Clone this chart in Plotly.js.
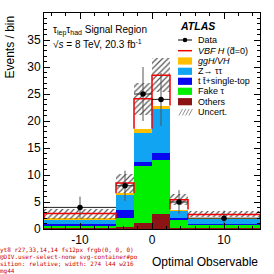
<!DOCTYPE html>
<html>
<head>
<meta charset="utf-8">
<script src="https://cdn.plot.ly/plotly-3.0.1.min.js"></script>
<style>html,body{margin:0;padding:0;background:#fff;}#chart{width:274px;height:274px;}
#dbg{position:absolute;left:0;top:246px;width:140px;height:28px;overflow:hidden;font:6px monospace;line-height:7px;color:#c00;word-break:break-all;}</style>
</head>
<body>
<div id="chart"></div>
<div id="dbg"></div>
<script>
// ---- data ----
const binEdges = [-15, -5, -2.5, 0, 2.5, 5, 15];
const others   = [0.10, 0.30, 1.20, 2.70, 0.20, 0.15];
const fakeTau  = [0.45, 1.68, 10.5, 10.1, 1.50, 0.60];
const ttbar    = [0.30, 1.54, 0.65, 1.30, 0.26, 0.20];
const ztautau  = [0.85, 2.78, 5.35, 8.10, 1.35, 0.95];
const gghVH    = [0.25, 0.30, 0.85, 0.65, 0.30, 0.10];
const vbfH     = [0.90, 1.90, 5.55, 5.60, 1.80, 0.70];
const uncert   = [0.93, 1.75, 3.00, 3.15, 1.00, 0.55];
const dataVals = [4, 8, 25, 24, 5, 2];
const dataErr  = [2.0, 2.8, 5.0, 4.9, 2.2, 1.4];
const xTickVals = [-10, 0, 10];
const xTickText = ["-10", "0", "10"];
const yTickVals = [0, 5, 10, 15, 20, 25, 30, 35];
const yTickText = ["0", "5", "10", "15", "20", "25", "30", "35"];

// ---- derived ----
const n = dataVals.length;
const centers = [], widths = [];
for (let i = 0; i < n; i++) { centers.push((binEdges[i] + binEdges[i+1]) / 2); widths.push(binEdges[i+1] - binEdges[i]); }
const halfW = widths.map(w => w / 2);

const layers = [
  {v: others, c: '#8C1414'}, {v: fakeTau, c: '#00F000'}, {v: ttbar, c: '#0808F0'},
  {v: ztautau, c: '#10A4F2'}, {v: gghVH, c: '#FFBE00'}
];
const traces = [];
let cum = new Array(n).fill(0);
layers.forEach(L => {
  traces.push({type: 'bar', x: centers, width: widths, y: L.v, base: cum.slice(),
    marker: {color: L.c, line: {width: 0}}, showlegend: false, hoverinfo: 'skip'});
  cum = cum.map((c, i) => c + L.v[i]);
});
const bkg = cum.slice();
const total = bkg.map((b, i) => b + vbfH[i]);
traces.push({type: 'bar', x: centers, width: widths,
  y: uncert.map(u => 2 * u), base: total.map((t, i) => t - uncert[i]),
  marker: {color: 'rgba(0,0,0,0)', line: {width: 0},
    pattern: {shape: '/', fgcolor: '#555', bgcolor: 'rgba(0,0,0,0)', size: 4, solidity: 0.3, fillmode: 'replace'}},
  showlegend: false, hoverinfo: 'skip'});
const rx = [], ry = [];
for (let i = 0; i < n; i++) {
  rx.push(binEdges[i], binEdges[i], binEdges[i+1], binEdges[i+1], null);
  ry.push(bkg[i], total[i], total[i], bkg[i], null);
}
traces.push({type: 'scatter', mode: 'lines', x: rx, y: ry, line: {color: '#F00000', width: 1.5},
  showlegend: false, hoverinfo: 'skip'});
traces.push({type: 'scatter', mode: 'markers', x: centers, y: dataVals,
  marker: {color: '#000', size: 5.5},
  error_y: {type: 'data', array: dataErr, color: '#555', thickness: 1, width: 0},
  error_x: {type: 'data', array: halfW, color: '#222', thickness: 1, width: 0},
  showlegend: false, hoverinfo: 'skip'});

const L0 = 44, R0 = 260, T0 = 13, B0 = 229;
const px = x => (x - L0) / (R0 - L0);
const py = y => (B0 - y) / (B0 - T0);
const FONT = 'Liberation Sans, Arial, sans-serif';
const shapes = [], ann = [];
function legText(y, txt) {
  ann.push({xref: 'paper', yref: 'paper', x: px(196), y: py(y), xanchor: 'left', yanchor: 'middle',
    text: txt, showarrow: false, font: {family: FONT, size: 9, color: '#000'}});
}
const lx0 = 178, lx1 = 192;
shapes.push({type: 'line', xref: 'paper', yref: 'paper', x0: px(lx0), x1: px(lx1), y0: py(40), y1: py(40), line: {color: '#000', width: 1}});
shapes.push({type: 'circle', xref: 'paper', yref: 'paper', x0: px(182.7), x1: px(187.3), y0: py(37.7), y1: py(42.3), fillcolor: '#000', line: {width: 0}});
legText(40, 'Data');
shapes.push({type: 'line', xref: 'paper', yref: 'paper', x0: px(lx0), x1: px(lx1), y0: py(50.7), y1: py(50.7), line: {color: '#F00000', width: 1.5}});
legText(50.7, '<i>VBF H</i> (d\u0303=0)');
const boxes = [[61, '#FFBE00', '<i>ggH/VH</i>'], [71.3, '#10A4F2', 'Z\u2192 \u03C4\u03C4'], [81.3, '#0808F0', 't t\u0304+single-top'],
               [91.3, '#00F000', 'Fake \u03C4'], [101.7, '#8C1414', 'Others']];
boxes.forEach(b => {
  shapes.push({type: 'rect', xref: 'paper', yref: 'paper', x0: px(lx0), x1: px(lx1), y0: py(b[0] + 3.6), y1: py(b[0] - 3.6), fillcolor: b[1], line: {width: 0}});
  legText(b[0], b[2]);
});
for (let k = 0; k < 4; k++) {
  shapes.push({type: 'line', xref: 'paper', yref: 'paper', x0: px(lx0 + 1 + k * 3.3), x1: px(lx0 + 4.5 + k * 3.3), y0: py(115.5), y1: py(109), line: {color: '#777', width: 0.8}});
}
legText(112.3, 'Uncert.');
ann.push({xref: 'paper', yref: 'paper', x: px(177.5), y: py(26), xanchor: 'left', yanchor: 'middle',
  text: '<b><i>ATLAS</i></b>', showarrow: false, font: {family: FONT, size: 10.5, color: '#000'}});
ann.push({xref: 'paper', yref: 'paper', x: px(51), y: py(30.5), xanchor: 'left', yanchor: 'middle',
  text: '\u03C4<sub>lep</sub>\u03C4<sub>had</sub> Signal Region', showarrow: false, font: {family: FONT, size: 10, color: '#000'}});
ann.push({xref: 'paper', yref: 'paper', x: px(51), y: py(43.5), xanchor: 'left', yanchor: 'middle',
  text: '\u221A<i>s</i> = 8 TeV, 20.3 fb<sup>-1</sup>', showarrow: false, font: {family: FONT, size: 10, color: '#000'}});
ann.push({xref: 'paper', yref: 'paper', x: px(260), y: py(262), xanchor: 'right', yanchor: 'middle',
  text: 'Optimal Observable', showarrow: false, font: {family: FONT, size: 12, color: '#000'}});
ann.push({xref: 'paper', yref: 'paper', x: px(9), y: py(14), xanchor: 'center', yanchor: 'top', textangle: -90,
  text: 'Events / bin', showarrow: false, font: {family: FONT, size: 12, color: '#000'}});

const layout = {
  width: 274, height: 274,
  margin: {l: 44, r: 14, t: 13, b: 45, pad: 0},
  barmode: 'overlay', bargap: 0, showlegend: false,
  font: {family: FONT, size: 12, color: '#000'},
  xaxis: {range: [-15, 15], tickmode: 'array', tickvals: xTickVals, ticktext: xTickText,
    ticks: 'inside', ticklen: 6, tickcolor: '#000', showline: true, linecolor: '#000', linewidth: 1,
    mirror: 'allticks', showgrid: false, zeroline: false, tickfont: {family: FONT, size: 12},
    minor: {tickmode: 'linear', tick0: 0, dtick: 2, ticks: 'inside', ticklen: 3, tickcolor: '#000', showgrid: false}},
  yaxis: {range: [0, 40], tickmode: 'array', tickvals: yTickVals, ticktext: yTickText,
    ticks: 'inside', ticklen: 6, tickcolor: '#000', showline: true, linecolor: '#000', linewidth: 1,
    mirror: 'allticks', showgrid: false, zeroline: false, showticklabels: true, tickfont: {family: FONT, size: 12},
    minor: {tickmode: 'linear', tick0: 0, dtick: 1, ticks: 'inside', ticklen: 3, tickcolor: '#000', showgrid: false}},
  shapes: shapes, annotations: ann
};
Plotly.newPlot('chart', traces, layout, {staticPlot: true, displayModeBar: false}).then(gd => {
  let s = '';
  const t = document.querySelectorAll('.ytick text');
  s += 'yt' + t.length;
  if (t.length) { const r = t[t.length-1].getBoundingClientRect(); s += ' r' + [r.x, r.y, r.width, r.height].map(Math.round).join(',') + ' fs' + t[t.length-1].style.fontSize + ' f' + t[t.length-1].style.fill; }
  const el = document.elementFromPoint(36, 41);
  s += ' @' + (el ? el.tagName + '.' + (el.getAttribute('class')||'') + '#' + (el.getAttribute('style')||'').slice(0,30) : 'none');
  const fl = gd._fullLayout;
  s += ' l' + Math.round(fl.xaxis._offset) + ' w' + Math.round(fl.xaxis._length) + ' mg' + fl._size.l;
  document.getElementById('dbg').textContent = s;
}).catch(e => { document.getElementById('dbg').textContent = 'ERR ' + e; });
</script>
</body>
</html>
